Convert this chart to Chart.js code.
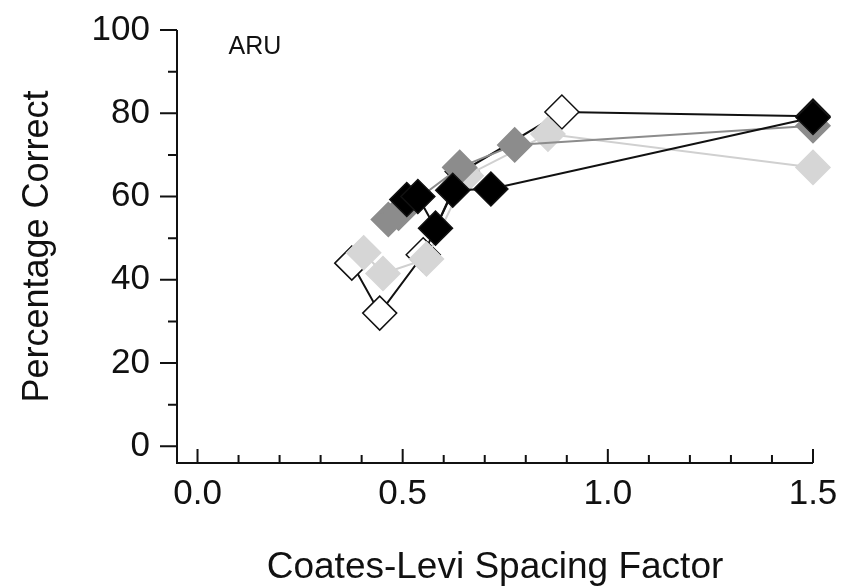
<!DOCTYPE html>
<html lang="en">
<head>
<meta charset="UTF-8">
<title>ARU - Percentage Correct vs Coates-Levi Spacing Factor</title>
<script src="https://cdn.jsdelivr.net/npm/chart.js"></script>
<style>
  html, body { margin: 0; padding: 0; background: #fff; }
</style>
</head>
<body>
<canvas id="chart" width="846" height="587"></canvas>
<script>
// axis ticks
const xTicks = [0, 0.5, 1.0, 1.5];
const xMinorTicks = [0.1, 0.2, 0.3, 0.4, 0.6, 0.7, 0.8, 0.9, 1.1, 1.2, 1.3, 1.4];
const yTicks = [0, 20, 40, 60, 80, 100];
const yMinorTicks = [10, 30, 50, 70, 90];

// series
const openX = [0.376, 0.444, 0.55, 0.645, 0.888, 1.5];
const openY = [44, 32, 46, 66, 80.3, 79.3];

const lightX = [0.405, 0.452, 0.558, 0.655, 0.854, 1.5];
const lightY = [46.5, 41.5, 45, 65, 75, 67];

const darkX = [0.465, 0.49, 0.639, 0.773, 1.5];
const darkY = [54.5, 56, 67, 72.4, 77];

const blackX = [0.51, 0.537, 0.58, 0.622, 0.715, 1.5];
const blackY = [59.3, 60, 52.4, 61.5, 61.8, 79];

const pts = (xs, ys) => xs.map((x, i) => ({ x: x, y: ys[i] }));

function series(label, xs, ys, fill, line, lw, order) {
    return {
        label: label,
        data: pts(xs, ys),
        showLine: true,
        borderColor: line,
        borderWidth: lw,
        backgroundColor: fill,
        pointStyle: 'rectRot',
        pointRadius: 17,
        pointBorderColor: line === '#111' ? '#111' : fill,
        pointBorderWidth: 1.5,
        pointBackgroundColor: fill,
        order: order,
        clip: false
    };
}

const FONT = 'Liberation Sans, Arial, Helvetica, sans-serif';

const axisDecor = {
    id: 'axisDecor',
    beforeDatasetsDraw(chart) {
        const { ctx, chartArea: a, scales: { x, y } } = chart;
        ctx.save();
        ctx.strokeStyle = '#111';
        ctx.lineWidth = 2;
        ctx.beginPath();
        ctx.moveTo(a.left, a.top);
        ctx.lineTo(a.left, a.bottom);
        ctx.lineTo(a.right, a.bottom);
        yTicks.forEach(v => { const p = y.getPixelForValue(v); ctx.moveTo(a.left - 17, p); ctx.lineTo(a.left, p); });
        yMinorTicks.forEach(v => { const p = y.getPixelForValue(v); ctx.moveTo(a.left - 9, p); ctx.lineTo(a.left, p); });
        xTicks.forEach(v => { const p = x.getPixelForValue(v); ctx.moveTo(p, a.bottom); ctx.lineTo(p, a.bottom - 14); });
        xMinorTicks.forEach(v => { const p = x.getPixelForValue(v); ctx.moveTo(p, a.bottom); ctx.lineTo(p, a.bottom - 8); });
        ctx.stroke();
        // panel label
        ctx.fillStyle = '#111';
        ctx.font = '25px ' + FONT;
        ctx.textAlign = 'center';
        ctx.textBaseline = 'middle';
        ctx.fillText('ARU', x.getPixelForValue(0.14), y.getPixelForValue(96));
        ctx.restore();
    }
};

new Chart(document.getElementById('chart'), {
    type: 'scatter',
    data: {
        datasets: [
            series('Black', blackX, blackY, '#000', '#111', 2, 1),
            series('Dark grey', darkX, darkY, '#8c8c8c', '#8c8c8c', 2, 2),
            series('Light grey', lightX, lightY, '#d6d6d6', '#d0d0d0', 2, 3),
            series('Open', openX, openY, '#fff', '#111', 2, 4)
        ]
    },
    options: {
        responsive: false,
        animation: false,
        layout: { padding: { top: 30, right: 33, left: 0, bottom: 0 }, autoPadding: false },
        plugins: { legend: { display: false }, tooltip: { enabled: false } },
        scales: {
            x: {
                type: 'linear',
                min: -0.05,
                max: 1.5,
                afterBuildTicks: s => { s.ticks = xTicks.map(v => ({ value: v })); },
                afterFit: s => { s.height = 124; s.paddingLeft = 0; s.paddingRight = 0; },
                grid: { display: false, drawTicks: false },
                border: { display: false },
                ticks: {
                    color: '#111',
                    padding: 10,
                    font: { family: FONT, size: 35 },
                    callback: v => Number(v).toFixed(1)
                },
                title: {
                    display: true,
                    text: 'Coates-Levi Spacing Factor',
                    color: '#111',
                    font: { family: FONT, size: 37, lineHeight: 1.05 },
                    padding: { top: 0, bottom: 0 }
                }
            },
            y: {
                type: 'linear',
                min: -4,
                max: 100,
                afterBuildTicks: s => { s.ticks = yTicks.map(v => ({ value: v })); },
                afterFit: s => { s.width = 177; s.paddingTop = 0; s.paddingBottom = 0; },
                grid: { display: false, drawTicks: false },
                border: { display: false },
                ticks: {
                    color: '#111',
                    padding: 27,
                    font: { family: FONT, size: 35 }
                },
                title: {
                    display: true,
                    text: 'Percentage Correct',
                    color: '#111',
                    font: { family: FONT, size: 36 },
                    padding: { top: 16, bottom: 0 }
                }
            }
        }
    },
    plugins: [axisDecor]
});
</script>
</body>
</html>
